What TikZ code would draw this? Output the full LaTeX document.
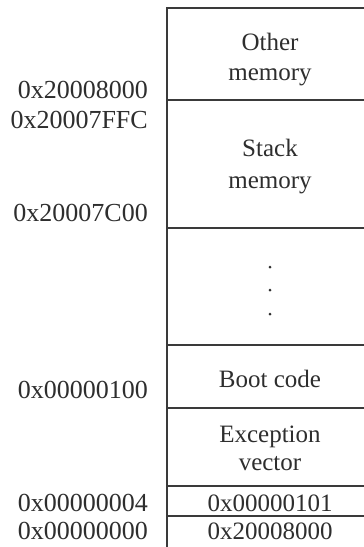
\documentclass[tikz,border=0pt]{standalone}
\usepackage{fontspec}
\setmainfont{Liberation Serif}
\definecolor{ink}{HTML}{2E2E2E}
\definecolor{rule}{HTML}{3A3A3A}
\begin{document}
\begin{tikzpicture}[x=1pt,y=-1pt,
  cell/.style={draw=rule,line width=1.6pt,anchor=north west,inner sep=0pt,outer sep=0pt,minimum width=206pt},
  celltext/.style={text=ink,font=\fontsize{25}{30}\selectfont,align=center,inner sep=0pt},
  addr/.style={text=ink,font=\fontsize{26}{30}\selectfont,anchor=east,inner sep=0pt}]
\useasboundingbox (0,0) rectangle (364,547);
\fill[white] (0,0) rectangle (364,547);
\clip (0,0) rectangle (364,547);
% memory cells
\node[cell,minimum height=92pt]  (c1) at (167,8)   {};
\node[cell,minimum height=128pt] (c2) at (167,100) {};
\node[cell,minimum height=117pt] (c3) at (167,228) {};
\node[cell,minimum height=63pt]  (c4) at (167,345) {};
\node[cell,minimum height=78pt]  (c5) at (167,408) {};
\node[cell,minimum height=30pt]  (c6) at (167,486) {};
\node[cell,minimum height=60pt]  (c7) at (167,516) {};
% cell texts
\node[celltext] (t1) at ([yshift=-6]c1.center) {Other\\memory};
\node[celltext,font=\fontsize{25}{32}\selectfont] (t2) at ([yshift=-3]c2.center) {Stack\\memory};
\fill[ink] (270,267) circle (1.5);
\fill[ink] (270,290) circle (1.5);
\fill[ink] (270,314) circle (1.5);
\node[celltext] (t4) at ([yshift=-2]c4.center) {Boot code};
\node[celltext,font=\fontsize{25}{28}\selectfont] (t5) at ([yshift=-1]c5.center) {Exception\\vector};
\node[celltext] (t6) at ([yshift=-2]c6.center) {0x00000101};
\node[celltext] (t7) at (270,531) {0x20008000};
% addresses
\node[addr] (a1) at (148,90)  {0x20008000};
\node[addr] (a2) at (148,120) {0x20007FFC};
\node[addr] (a3) at (148,213) {0x20007C00};
\node[addr] (a4) at (148,390) {0x00000100};
\node[addr] (a5) at (148,503) {0x00000004};
\node[addr] (a6) at (148,531) {0x00000000};
\end{tikzpicture}
\end{document}
